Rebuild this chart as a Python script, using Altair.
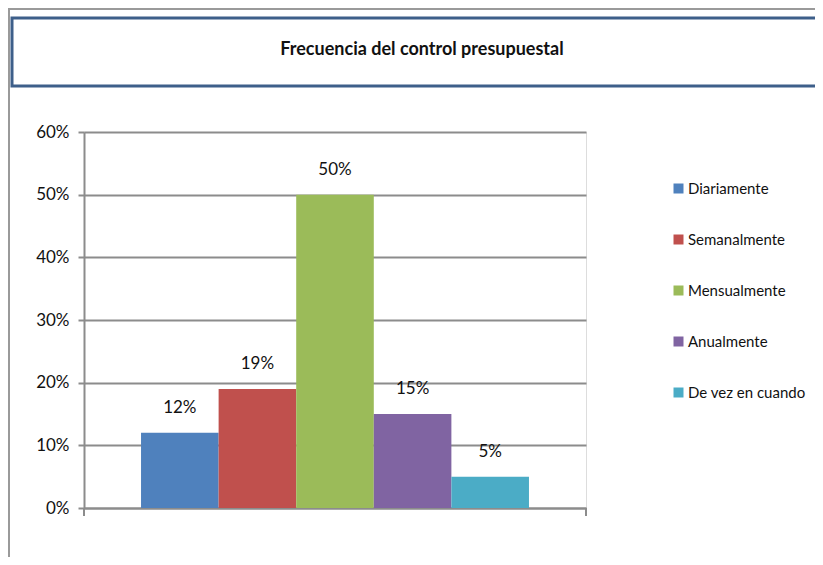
import altair as alt
import pandas as pd

categories = ["Diariamente", "Semanalmente", "Mensualmente", "Anualmente", "De vez en cuando"]
values = [0.12, 0.19, 0.50, 0.15, 0.05]
labels = ["12%", "19%", "50%", "15%", "5%"]
colors = ["#4F81BD", "#C0504D", "#9BBB59", "#8064A2", "#4BACC6"]
title_text = "Frecuencia del control presupuestal"

FONT = "Lato, Liberation Sans, sans-serif"
W, H = 502, 376

df = pd.DataFrame({"cat": categories, "val": values, "lab": labels})
one = pd.DataFrame({"a": [0]})

color = alt.Color(
    "cat:N",
    sort=categories,
    scale=alt.Scale(domain=categories, range=colors),
    legend=alt.Legend(
        title=None,
        orient="none",
        legendX=587,
        legendY=49,
        symbolType="square",
        symbolSize=100,
        symbolStrokeWidth=0,
        labelFont=FONT,
        labelFontSize=15,
        labelColor="#111111",
        rowPadding=35,
        labelOffset=2,
        labelLimit=200,
    ),
)

xscale = alt.Scale(paddingInner=0, paddingOuter=0.735)
x = alt.X(
    "cat:N",
    sort=categories,
    scale=xscale,
    axis=alt.Axis(title=None, labels=False, ticks=False, domain=True,
                  domainColor="#8C8C8C", domainWidth=2, grid=False),
)
y = alt.Y(
    "val:Q",
    scale=alt.Scale(domain=[0, 0.6], nice=False),
    axis=alt.Axis(title=None, format=".0%", values=[0, 0.1, 0.2, 0.3, 0.4, 0.5, 0.6],
                  labelFont=FONT, labelFontSize=17, labelColor="#111111",
                  labelPadding=9, tickSize=6, tickColor="#8C8C8C", tickWidth=2,
                  domainColor="#8C8C8C", domainWidth=2,
                  grid=True, gridColor="#8C8C8C", gridWidth=2),
)

box = alt.Chart(one).mark_rect(fill="white", stroke="#3E5F8A", strokeWidth=3).encode(
    x=alt.value(-72), x2=alt.value(900), y=alt.value(-114), y2=alt.value(-46)
)
frame_top = alt.Chart(one).mark_rule(color="#9A9A9A", strokeWidth=2).encode(
    x=alt.value(-76), x2=alt.value(900), y=alt.value(-123)
)
frame_left = alt.Chart(one).mark_rule(color="#9A9A9A", strokeWidth=2).encode(
    x=alt.value(-75), y=alt.value(-124), y2=alt.value(H + 49)
)
title = alt.Chart(one).mark_text(
    text=title_text, font=FONT, fontSize=18, fontWeight="bold", color="#111111",
    align="center", baseline="middle"
).encode(x=alt.value(338), y=alt.value(-82))

bars = alt.Chart(df).mark_bar().encode(x=x, y=y, color=color)
texts = alt.Chart(df).mark_text(
    font=FONT, fontSize=17, color="#111111", baseline="alphabetic", dy=-20
).encode(x=alt.X("cat:N", sort=categories, scale=xscale), y="val:Q", text="lab:N")

tick_l = alt.Chart(one).mark_rule(color="#8C8C8C", strokeWidth=2).encode(
    x=alt.value(0), y=alt.value(H), y2=alt.value(H + 8)
)
tick_r = alt.Chart(one).mark_rule(color="#8C8C8C", strokeWidth=2).encode(
    x=alt.value(W), y=alt.value(H), y2=alt.value(H + 8)
)

chart = alt.layer(frame_top, frame_left, box, title, bars, texts, tick_l, tick_r).properties(
    width=W, height=H,
    autosize=alt.AutoSizeParams(type="none"),
    padding={"left": 76, "top": 124, "right": 229, "bottom": 49},
).configure_view(stroke=None).configure(background="white")

chart.save("out.html", embed_options={"renderer": "svg", "actions": False})
